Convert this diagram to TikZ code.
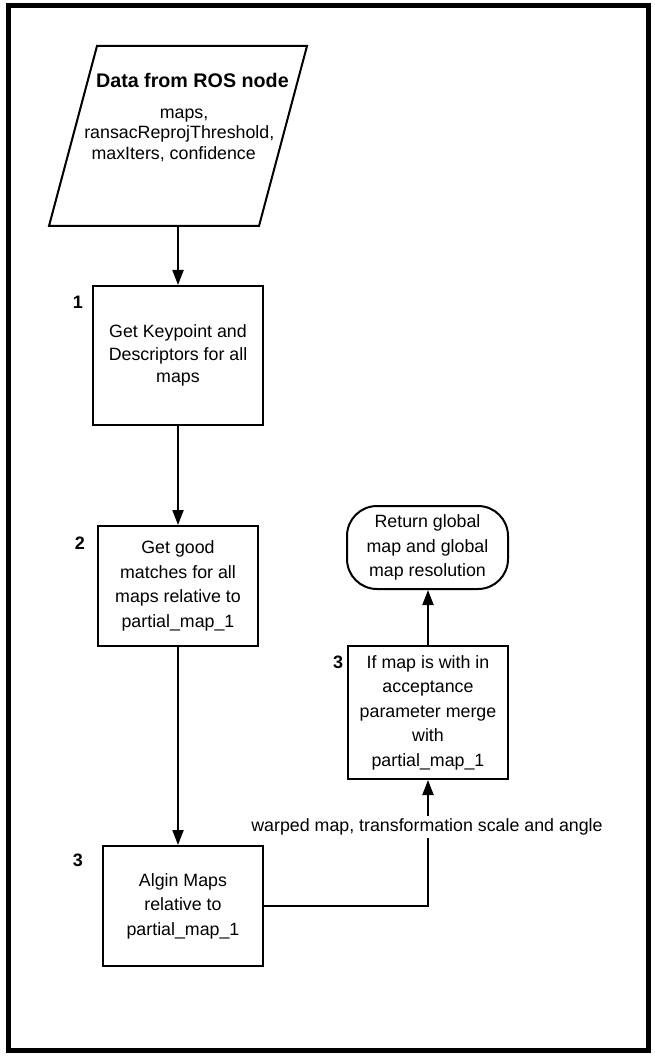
\documentclass[tikz,border=0pt]{standalone}
\usepackage{fontspec}
\setmainfont{Liberation Sans}
\usetikzlibrary{arrows.meta}

\begin{document}
\begin{tikzpicture}[x=1pt, y=-1pt,
		procbox/.style={draw, line width=2pt, rectangle, align=center, inner sep=0pt, font=\fontsize{17.8}{24.5}\selectfont},
		numlbl/.style={font=\fontsize{18}{20}\selectfont\bfseries, inner sep=0pt},
		txt/.style={font=\fontsize{17.8}{20.5}\selectfont, inner sep=0pt, anchor=base},
		arr/.style={line width=2pt, -{Triangle[length=15pt,width=11pt]}}
	]
		%%%%% START %%%%%
		\useasboundingbox (0, 0) rectangle (654, 1056);
		\draw[line width=5pt] (8.5, 6) rectangle (648.5, 1050.5);
		
		% input data
		\draw[line width=2pt, line join=miter] (49, 226) -- (259, 226) -- (307, 46) -- (97, 46) -- cycle;
		\coordinate (databot) at (178, 226);
		\node[txt, font=\fontsize{19.7}{22}\selectfont\bfseries] (datatitle) at (192.4, 87.3) {Data from ROS node};
		\node[txt] (dataline1) at (184.1, 118.3) {maps,};
		\node[txt] (dataline2) at (179.3, 138.8) {ransacReprojThreshold,};
		\node[txt] (dataline3) at (173.7, 159.3) {maxIters, confidence};
		
		% steps
		\node[procbox, minimum width=170pt, minimum height=139pt, font=\fontsize{17.8}{22.5}\selectfont] (keypts) at (178, 355.5) {Get Keypoint and\\Descriptors for all\\maps};
		\node[numlbl] (num1) at (78, 302) {1};
		
		\node[procbox, minimum width=160pt, minimum height=120pt] (goodm) at (178, 586) {Get good\\matches for all\\maps relative to\\partial\_map\_1};
		\node[numlbl] (num2) at (80, 543) {2};
		
		\node[procbox, minimum width=160pt, minimum height=120pt] (algin) at (183, 906) {Algin Maps\\relative to\\partial\_map\_1};
		\node[numlbl] (num3) at (78, 860) {3};
		
		\node[procbox, minimum width=160pt, minimum height=133pt] (merge) at (428, 712.5) {If map is with in\\acceptance\\parameter merge\\with\\partial\_map\_1};
		\node[numlbl] (num4) at (338, 662) {3};
		
		\node[procbox, rounded corners=30pt, minimum width=161pt, minimum height=83pt] (result) at (427.5, 547.5) {Return global\\map and global\\map resolution};
		
		% connectors
		\draw[arr] (databot) -- (keypts.north);
		\draw[arr] (keypts.south) -- (goodm.north);
		\draw[arr] (goodm.south) -- (goodm.south |- algin.north);
		\draw[arr] (algin.east) -| (merge.south);
		\draw[arr] (merge.north) -- (merge.north |- result.south);
		
		\node[fill=white, inner sep=3pt, font=\fontsize{17.8}{20}\selectfont] (warplbl) at (427, 827) {warped map, transformation scale and angle};
		%%%%% END %%%%%
	\end{tikzpicture}
\end{document}
